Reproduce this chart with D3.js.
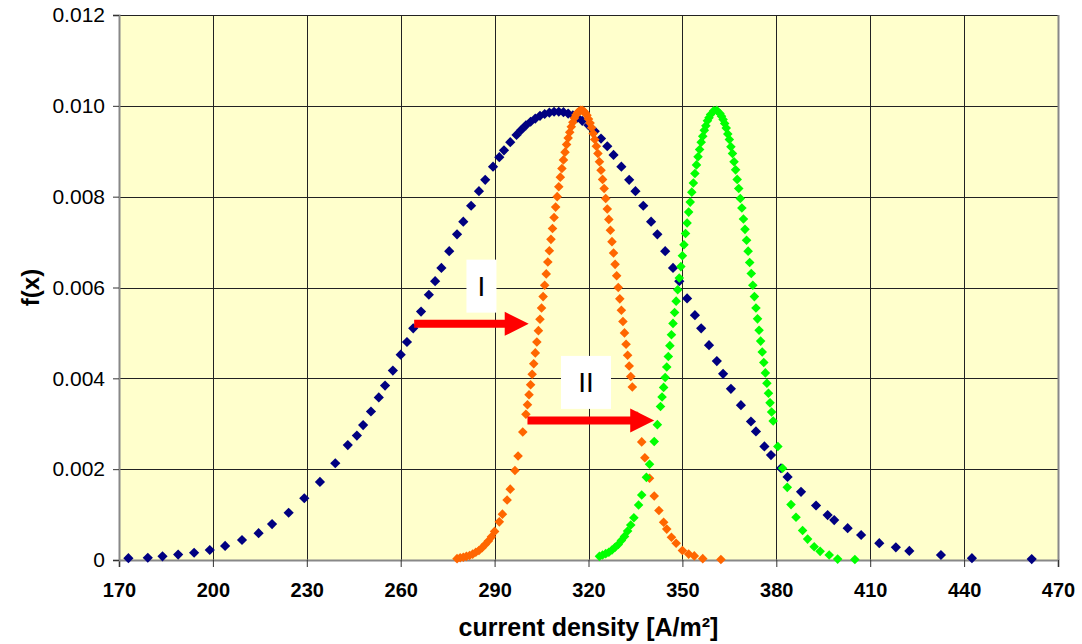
<!DOCTYPE html>
<html>
<head>
<meta charset="utf-8">
<script src="https://cdn.jsdelivr.net/npm/d3@7"></script>
<style>
  body { margin: 0; background: #fff; }
  svg text { font-family: Arial, "Liberation Sans", sans-serif; }
</style>
</head>
<body>
<div id="chart"></div>
<script>
// values: [current density, f(x)]
var xTicks = [170, 200, 230, 260, 290, 320, 350, 380, 410, 440, 470];
var yTicks = [0, 0.002, 0.004, 0.006, 0.008, 0.010, 0.012];

var wide = [
  [173.0, 0.00004], [179.2, 0.00005], [183.9, 0.00008], [188.9, 0.00012], [194.0, 0.00016],
  [199.0, 0.00022], [203.9, 0.00031], [209.3, 0.00044], [214.6, 0.00059], [218.9, 0.00079],
  [224.2, 0.00104], [229.2, 0.00136], [234.2, 0.00172], [239.1, 0.00213], [243.1, 0.00253],
  [246, 0.00274], [248, 0.00297], [250.5, 0.00327], [253, 0.00358], [255, 0.00384],
  [257.5, 0.00417], [260, 0.00452], [262, 0.0048], [264, 0.0051], [266.5, 0.00547],
  [269, 0.00584], [271, 0.00614], [273, 0.00643], [275.5, 0.0068], [278, 0.00717],
  [280, 0.00745], [282.5, 0.0078], [285, 0.00812], [287, 0.00837], [289.5, 0.00866],
  [291.5, 0.00887], [293, 0.00902], [295, 0.0092], [297, 0.00936], [298.5, 0.00947],
  [300, 0.00957], [301.5, 0.00965], [303, 0.00972], [304.5, 0.00978], [306, 0.00982],
  [307.5, 0.00985], [309, 0.00987], [310.5, 0.00987], [312, 0.00986], [313.5, 0.00983],
  [315, 0.00979], [316.5, 0.00974], [318, 0.00967], [320, 0.00957], [322, 0.00944],
  [324, 0.00928], [326, 0.00911], [328, 0.00892], [330.5, 0.00866], [333, 0.00837],
  [335, 0.00812], [337.5, 0.0078], [340, 0.00745], [342, 0.00717], [344.5, 0.0068],
  [347, 0.00643], [349, 0.00614], [351.5, 0.00576], [354, 0.00539], [356, 0.0051],
  [358.5, 0.00473], [361, 0.00438], [363, 0.0041], [365.5, 0.00377], [368.7, 0.00341],
  [371.9, 0.00305], [373.5, 0.00283], [376.2, 0.0025], [378.3, 0.00231], [381.5, 0.00202],
  [383.6, 0.00183], [387.9, 0.0015], [392.7, 0.0012], [396.4, 0.00099], [398.5, 0.00088],
  [402.8, 0.0007], [407.1, 0.00055], [412.9, 0.00037], [418.2, 0.00028], [422.5, 0.0002],
  [432.6, 0.00011], [442.5, 0.00004], [461.6, 0.00002]
];

var stepI = [
  [278, 0.00003], [279, 0.00005], [280, 0.00006], [281, 0.00008], [282, 0.0001],
  [283, 0.00013], [284, 0.00017], [285, 0.00021], [286, 0.00027], [287, 0.00034],
  [288, 0.00042], [289, 0.00051], [290, 0.00063], [291.5, 0.00084], [292.5, 0.00101],
  [294, 0.00132], [295, 0.00156], [296.5, 0.00197], [297.5, 0.00229], [299, 0.00282],
  [300, 0.00321], [300.5, 0.00342], [301, 0.00364], [301.5, 0.00386], [302, 0.00409],
  [302.5, 0.00432], [303, 0.00456], [303.5, 0.0048], [304, 0.00505], [304.5, 0.0053],
  [305, 0.00555], [305.5, 0.0058], [306, 0.00605], [306.5, 0.0063], [307, 0.00656],
  [307.5, 0.00681], [308, 0.00706], [308.5, 0.0073], [309, 0.00754], [309.5, 0.00777],
  [310, 0.008], [310.5, 0.00822], [311, 0.00843], [311.5, 0.00862], [312, 0.00881],
  [312.5, 0.00898], [313, 0.00915], [313.5, 0.00929], [314, 0.00942],
  [314.5, 0.00954], [315, 0.00964], [315.5, 0.00973], [316, 0.0098], [316.5, 0.00985],
  [317, 0.00988], [317.5, 0.0099], [318, 0.0099], [318.5, 0.00988], [319, 0.00984],
  [319.5, 0.00979], [320, 0.00971], [320.5, 0.00962], [321, 0.00952], [321.5, 0.00939],
  [322, 0.00926], [322.5, 0.00911], [323, 0.00895], [323.5, 0.00877], [324, 0.00858],
  [324.5, 0.00838], [325, 0.00818], [325.5, 0.00796], [326, 0.00773], [326.5, 0.0075],
  [327, 0.00726], [327.5, 0.00701], [328, 0.00676], [328.5, 0.00651], [329, 0.00626],
  [329.5, 0.006], [330, 0.00575], [330.5, 0.0055], [331, 0.00525], [331.5, 0.005],
  [332, 0.00475], [332.5, 0.00451], [333, 0.00427], [333.5, 0.00404], [334, 0.00381],
  [335.5, 0.00317], [337, 0.0026], [338, 0.00225],
  [339.5, 0.0018], [341, 0.00141], [342.5, 0.00109], [344, 0.00083], [345, 0.00068],
  [346.5, 0.0005], [348, 0.00037], [350, 0.00021], [352, 0.00013], [353.8, 0.00009],
  [356.5, 0.00003], [362.3, 0.00001]
];

var stepII = [
  [323.5, 0.00008], [324.5, 0.00011], [325.5, 0.00014], [326.5, 0.00017], [327.5, 0.00022],
  [328.5, 0.00028], [329.5, 0.00034], [330.5, 0.00043], [331.5, 0.00052], [332.5, 0.00064],
  [333.5, 0.00077], [334.5, 0.00093], [336, 0.00121], [337, 0.00143], [338.5, 0.00182],
  [339.5, 0.00211], [341, 0.00261], [342, 0.00298], [343, 0.00338], [343.5, 0.00359],
  [344, 0.0038], [344.5, 0.00402], [345, 0.00425], [345.5, 0.00448], [346, 0.00472],
  [346.5, 0.00496], [347, 0.00521], [347.5, 0.00545], [348, 0.0057], [348.5, 0.00595],
  [349, 0.00621], [349.5, 0.00646], [350, 0.0067], [350.5, 0.00694], [351, 0.00719],
  [351.5, 0.00742], [352, 0.00766], [352.5, 0.00788], [353, 0.0081], [353.5, 0.0083],
  [354, 0.00851], [354.5, 0.0087], [355, 0.00888], [355.5, 0.00904], [356, 0.0092],
  [356.5, 0.00933], [357, 0.00946], [357.5, 0.00956], [358, 0.00967], [358.5, 0.00974],
  [359, 0.00981], [360, 0.00989], [361, 0.0099], [362, 0.00983], [362.5, 0.00977],
  [363, 0.0097], [363.5, 0.00961], [364, 0.00951], [364.5, 0.00938], [365, 0.00926],
  [365.5, 0.0091], [366, 0.00895], [366.5, 0.00877], [367, 0.00859], [367.5, 0.00838],
  [368, 0.00818], [368.5, 0.00796], [369, 0.00775], [369.5, 0.00751], [370, 0.00728],
  [370.5, 0.00704], [371, 0.0068], [371.5, 0.00655], [372, 0.00631], [372.5, 0.00605],
  [373, 0.0058], [373.5, 0.00555], [374, 0.00531], [374.5, 0.00506], [375, 0.00482],
  [375.5, 0.00458], [376, 0.00435], [376.5, 0.00412], [377, 0.00389], [377.5, 0.00367],
  [378, 0.00346], [378.5, 0.00326], [379, 0.00306],
  [380.5, 0.0025], [382, 0.00202], [383.5, 0.0016], [384.7, 0.00122], [386.3, 0.00094],
  [388.4, 0.00065], [390, 0.00046], [392.1, 0.00029], [394, 0.00019], [396.9, 0.00011],
  [399.6, 0.00002], [405.1, 0.00001]
];

// the two shift arrows and their labels, in data units
var arrows = [
  { label: "I",  from: 264.3, to: 300.9, at: 0.0052,  lx: 285.8, ly: 0.00603 },
  { label: "II", from: 300.5, to: 341.0, at: 0.00307, lx: 319.2, ly: 0.00391 }
];

var W = 1082, H = 644;
var margin = { top: 15, right: 24, bottom: 84, left: 119 };
var width = W - margin.left - margin.right,
    height = H - margin.top - margin.bottom;

var x = d3.scaleLinear().domain([170, 470]).range([0, width]);
var y = d3.scaleLinear().domain([0, 0.012]).range([height, 0]);

var svg = d3.select("#chart").append("svg")
    .attr("width", W)
    .attr("height", H);

var g = svg.append("g")
    .attr("transform", "translate(" + margin.left + "," + margin.top + ")");

g.append("rect")
    .attr("width", width)
    .attr("height", height)
    .attr("fill", "#FFFFCC");

// grid
g.append("g").selectAll("line.gx")
    .data(xTicks.slice(1, -1))
    .enter().append("line")
    .attr("x1", d => Math.round(x(d)) + 0.5).attr("x2", d => Math.round(x(d)) + 0.5)
    .attr("y1", 0).attr("y2", height)
    .attr("stroke", "#222").attr("stroke-width", 1);

g.append("g").selectAll("line.gy")
    .data(yTicks.slice(1))
    .enter().append("line")
    .attr("x1", 0).attr("x2", width)
    .attr("y1", d => Math.round(y(d)) + 0.5).attr("y2", d => Math.round(y(d)) + 0.5)
    .attr("stroke", "#222").attr("stroke-width", 1);

// right border
g.append("line")
    .attr("x1", width + 0.5).attr("x2", width + 0.5)
    .attr("y1", 0).attr("y2", height)
    .attr("stroke", "#888").attr("stroke-width", 2);

// axes
var xAxis = d3.axisBottom(x).tickValues(xTicks).tickSize(7).tickFormat(d3.format("d"));
var yAxis = d3.axisLeft(y).tickValues(yTicks).tickSize(6)
    .tickFormat(d => d === 0 ? "0" : d3.format(".3f")(d));

var gx = g.append("g")
    .attr("transform", "translate(0," + height + ")")
    .call(xAxis);
gx.select(".domain").attr("stroke", "#888").attr("stroke-width", 2);
gx.selectAll(".tick line").attr("stroke", "#333");
gx.selectAll(".tick text")
    .attr("y", 23)
    .attr("fill", "#000")
    .style("font-size", "20px")
    .style("font-weight", "bold");

var gy = g.append("g").call(yAxis);
gy.select(".domain").attr("stroke", "#888").attr("stroke-width", 2);
gy.selectAll(".tick line").attr("stroke", "#333");
gy.selectAll(".tick text")
    .attr("x", -14)
    .attr("fill", "#000")
    .style("font-size", "21px");

// axis titles
svg.append("text")
    .attr("x", margin.left + width / 2)
    .attr("y", 636)
    .attr("text-anchor", "middle")
    .style("font-size", "25px")
    .style("font-weight", "bold")
    .text("current density [A/m²]");

svg.append("text")
    .attr("transform", "translate(39," + (margin.top + height / 2) + ") rotate(-90)")
    .attr("text-anchor", "middle")
    .style("font-size", "24px")
    .style("font-weight", "bold")
    .text("f(x)");

// series
function drawSeries(data, color, size) {
  var sym = d3.symbol().type(d3.symbolSquare).size(size);
  g.append("g").selectAll("path")
      .data(data)
      .enter().append("path")
      .attr("d", sym)
      .attr("transform", d => "translate(" + x(d[0]) + "," + y(d[1]) + ") rotate(45)")
      .attr("fill", color);
}

drawSeries(wide, "#000080", 52);
drawSeries(stepI, "#FF6600", 46);
drawSeries(stepII, "#00FF00", 46);

// arrows + labels
arrows.forEach(function(a) {
  var x0 = x(a.from), x1 = x(a.to), yy = y(a.at);
  var headLen = 24, headHalf = 12, shaftHalf = 4;
  g.append("path")
      .attr("d", "M" + x0 + "," + (yy - shaftHalf) +
                 "L" + (x1 - headLen) + "," + (yy - shaftHalf) +
                 "L" + (x1 - headLen) + "," + (yy - headHalf) +
                 "L" + x1 + "," + yy +
                 "L" + (x1 - headLen) + "," + (yy + headHalf) +
                 "L" + (x1 - headLen) + "," + (yy + shaftHalf) +
                 "L" + x0 + "," + (yy + shaftHalf) + "Z")
      .attr("fill", "#FF0000");

  var bw = a.label.length > 1 ? 50 : 30, bh = 53;
  g.append("rect")
      .attr("x", x(a.lx) - bw / 2)
      .attr("y", y(a.ly) - bh / 2)
      .attr("width", bw)
      .attr("height", bh)
      .attr("fill", "#fff");
  g.append("text")
      .attr("x", x(a.lx))
      .attr("y", y(a.ly) + 10)
      .attr("text-anchor", "middle")
      .style("font-size", "28px")
      .text(a.label);
});
</script>
</body>
</html>
